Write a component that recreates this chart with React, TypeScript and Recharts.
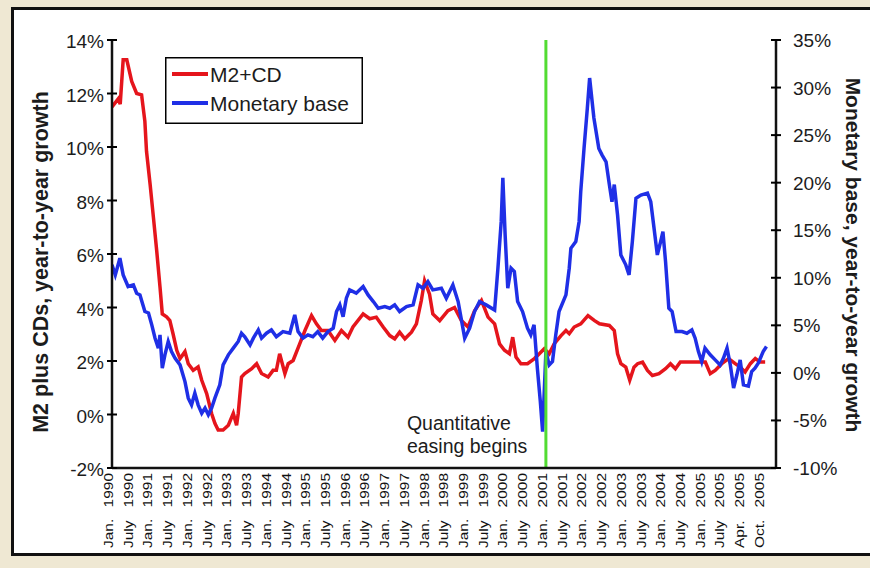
import React from 'react';
import { LineChart, Line, XAxis, YAxis, ReferenceLine, Legend } from 'recharts';

// Months counted from Jan. 1990 (0)
const m2Months = [0, 1.9, 2.5, 3.4, 4.5, 6, 7.5, 9, 10, 10.5, 11.6, 12.6, 13.6, 14.6, 15.3, 16.6, 17.6, 18.6, 19.7, 20.7, 22.2, 23.2, 24.7, 26.2, 27.3, 28.8, 30.3, 31.3, 32.3, 33.8, 35.4, 36.9, 37.9, 38.4, 39.4, 40.4, 42.5, 44, 45.5, 47.5, 49, 50, 51, 52.6, 53.6, 55.1, 57.1, 58.7, 60.7, 62.2, 63.7, 65.7, 67.8, 69.8, 71.8, 73.3, 76.4, 78.4, 80.4, 82.5, 84.5, 86, 87.5, 89.1, 91.1, 92.6, 94.1, 95.1, 96.6, 97.6, 99.7, 102.2, 104.2, 106.3, 108.3, 110.3, 112.4, 114.4, 116.4, 117.9, 119.4, 120.9, 121.9, 122.9, 124.4, 126.4, 128.5, 130, 131.5, 133, 134.5, 136.6, 138.1, 139.1, 140.6, 142.6, 144.8, 146.8, 148.3, 151.3, 152.8, 153.8, 154.8, 156.3, 157.5, 158.8, 159.9, 161.4, 162.9, 164.4, 166.4, 168.4, 169.9, 171.4, 172.9, 174.5, 176.5, 178.5, 180.5, 182, 183.5, 185.5, 187.6, 189.6, 191.1, 192.6, 194.2, 195.7, 197.2, 198.7];
const m2Values = [11.5, 11.8, 11.6, 13.26, 13.26, 12.45, 12.0, 11.95, 10.96, 9.84, 8.6, 7.37, 6.12, 4.77, 3.76, 3.65, 3.51, 3.0, 2.4, 2.09, 2.35, 1.9, 1.65, 1.78, 1.28, 0.78, 0.04, -0.33, -0.58, -0.58, -0.4, 0.04, -0.4, 0.04, 1.4, 1.53, 1.71, 1.9, 1.53, 1.4, 1.65, 1.65, 2.27, 1.53, 1.9, 2.02, 2.64, 3.14, 3.7, 3.39, 3.14, 3.14, 2.77, 3.14, 2.89, 3.27, 3.76, 3.58, 3.64, 3.27, 2.95, 2.83, 3.08, 2.83, 3.08, 3.39, 4.26, 5.0, 4.5, 3.76, 3.51, 3.88, 4.0, 3.51, 3.27, 3.88, 4.26, 3.64, 3.39, 2.64, 2.4, 2.27, 2.89, 2.15, 1.9, 1.9, 2.09, 2.27, 2.46, 2.27, 2.64, 2.95, 3.14, 3.02, 3.27, 3.39, 3.7, 3.51, 3.39, 3.33, 3.14, 2.27, 1.9, 1.77, 1.28, 1.77, 1.9, 1.96, 1.65, 1.46, 1.53, 1.71, 1.9, 1.71, 1.96, 1.96, 1.96, 1.96, 1.96, 1.53, 1.65, 1.9, 2.09, 1.9, 1.77, 1.59, 1.9, 2.09, 1.96, 1.96];

const baseMonths = [0, 1, 2.4, 3.4, 4.9, 6.5, 7.5, 8.5, 10, 11.1, 12.1, 13.1, 14.1, 14.6, 15.3, 16.1, 17.1, 18.1, 19.2, 20.7, 22.2, 23.2, 24.2, 25.2, 26.2, 27.3, 28.3, 29.3, 30.3, 31.3, 32.8, 33.8, 35.4, 36.9, 38.4, 39.4, 40.4, 42, 43, 44.5, 45.5, 47, 48.5, 50, 52, 54.1, 55.6, 56.6, 58.1, 59.6, 61.1, 62.6, 64.1, 65.7, 67.3, 68.3, 69.3, 70.3, 71.3, 72.3, 74.3, 76.4, 77.9, 79.5, 81, 83, 84.5, 86, 87.5, 89.6, 91.6, 93.1, 94.6, 96.1, 97.6, 100.2, 101.7, 103.7, 105.3, 107.3, 108.8, 110.3, 111.8, 113.8, 116.4, 117.4, 118.4, 118.9, 119.6, 120.4, 121.4, 122.4, 123.4, 124.9, 126.4, 127.4, 128.4, 129.4, 130.3, 131, 132, 133, 134, 135, 136, 138.1, 139.1, 139.6, 141.1, 142.1, 142.6, 143.6, 144.6, 145.3, 146.6, 148.1, 149.1, 150.3, 151.3, 152.1, 152.8, 153.8, 154.8, 156.3, 157.3, 158.3, 159.4, 160.9, 162.9, 163.9, 164.9, 165.9, 166.9, 167.6, 168.4, 169.4, 170.4, 171.6, 173.4, 174.9, 176.4, 177.4, 178.4, 179.4, 180.4, 182, 183.5, 185, 186, 187.1, 188.1, 189.1, 190.1, 191.1, 192.1, 193.6, 194.6, 195.6, 196.6, 198.1, 199.1];
const baseValues = [11.36, 10.3, 12.06, 10.3, 9.08, 9.25, 8.38, 8.2, 6.45, 6.3, 5.05, 3.65, 2.6, 4.0, 0.5, 1.9, 3.3, 2.24, 1.54, 0.84, -0.91, -2.66, -3.36, -2.14, -3.36, -4.24, -3.7, -4.4, -3.7, -2.66, -1.26, 0.84, 1.9, 2.6, 3.3, 4.17, 3.8, 2.94, 3.65, 4.52, 3.65, 4.17, 4.52, 3.8, 4.34, 4.17, 6.1, 4.34, 3.65, 4.0, 3.8, 4.34, 3.65, 4.34, 4.7, 6.45, 7.15, 5.9, 7.85, 8.73, 8.38, 9.08, 8.2, 7.5, 6.8, 6.97, 6.8, 7.15, 6.45, 6.97, 7.15, 9.25, 8.9, 9.6, 8.73, 8.9, 7.85, 9.25, 7.5, 3.65, 4.7, 6.45, 7.5, 7.15, 6.6, 11.0, 15.9, 20.5, 14.5, 8.9, 11.0, 10.65, 7.5, 6.45, 4.7, 4.0, 5.05, 0.5, -3.0, -6.17, 2.24, 0.84, 1.2, 4.0, 6.45, 8.2, 11.0, 13.1, 13.8, 15.9, 19.07, 23.6, 27.8, 31.0, 26.8, 23.6, 22.9, 22.2, 19.8, 18.0, 19.8, 16.6, 12.4, 11.36, 10.3, 13.8, 18.37, 18.7, 18.9, 18.0, 15.2, 12.4, 13.8, 14.86, 11.7, 6.8, 6.45, 4.34, 4.34, 4.17, 4.52, 3.65, 2.24, 1.19, 2.6, 1.9, 1.37, 0.84, 1.54, 2.6, 0.84, -1.6, -0.2, 1.37, -1.26, -1.4, 0.14, 0.5, 1.02, 2.24, 2.77];

const tickMonths = [0, 6, 12, 18, 24, 30, 36, 42, 48, 54, 60, 66, 72, 78, 84, 90, 96, 102, 108, 114, 120, 126, 132, 138, 144, 150, 156, 162, 168, 174, 180, 186, 192, 198];
const tickPeriods = ['Jan.', 'July', 'Jan.', 'July', 'Jan.', 'July', 'Jan.', 'July', 'Jan.', 'July', 'Jan.', 'July', 'Jan.', 'July', 'Jan.', 'July', 'Jan.', 'July', 'Jan.', 'July', 'Jan.', 'July', 'Jan.', 'July', 'Jan.', 'July', 'Jan.', 'July', 'Jan.', 'July', 'Jan.', 'July', 'Apr.', 'Oct.'];
const tickYears = ['1990', '1990', '1991', '1991', '1992', '1992', '1993', '1993', '1994', '1994', '1995', '1995', '1996', '1996', '1997', '1997', '1998', '1998', '1999', '1999', '2000', '2000', '2001', '2001', '2002', '2002', '2003', '2003', '2004', '2004', '2005', '2005', '2005', '2005'];
const leftTicks = [-2, 0, 2, 4, 6, 8, 10, 12, 14];
const rightTicks = [-10, -5, 0, 5, 10, 15, 20, 25, 30, 35];
const qeMonth = 132;

const m2Data = m2Months.map((m, i) => ({ m, v: m2Values[i] }));
const baseData = baseMonths.map((m, i) => ({ m, v: baseValues[i] }));

const FONT = "'Liberation Sans', Arial, Helvetica, sans-serif";
const TXT = '#1c1c1c';
const RED = '#e5151c';
const BLUE = '#1f2fe6';
const GREEN = '#52dc32';

const LeftTick = (props: any) => {
  const { x, y, payload } = props;
  return (
    <g>
      <line x1={x - 5} x2={x + 5} y1={y} y2={y} stroke="#000" strokeWidth={2} />
      <text x={x - 8} y={y + 8} textAnchor="end" fontSize={19} fill={TXT} fontFamily={FONT}>
        {payload.value}%
      </text>
    </g>
  );
};

const RightTick = (props: any) => {
  const { x, y, payload } = props;
  return (
    <g>
      <line x1={x - 5} x2={x + 5} y1={y} y2={y} stroke="#000" strokeWidth={2} />
      <text x={x + 17} y={y + 7} textAnchor="start" fontSize={19} fill={TXT} fontFamily={FONT}>
        {payload.value}%
      </text>
    </g>
  );
};

const BottomTick = (props: any) => {
  const { x, y, payload } = props;
  const i = tickMonths.indexOf(payload.value);
  if (i < 0) return null;
  return (
    <g>
      <text
        transform={`translate(${x + 1},${y + 5}) rotate(-90) scale(1,0.8)`}
        textAnchor="end"
        fontSize={15.5}
        fill="#111"
        fontFamily={FONT}
      >
        {tickYears[i]}
      </text>
      <text
        transform={`translate(${x + 1},${y + 80}) rotate(-90) scale(1,0.8)`}
        textAnchor="start"
        fontSize={15.5}
        fill="#111"
        fontFamily={FONT}
      >
        {tickPeriods[i]}
      </text>
    </g>
  );
};

const renderLegend = () => (
  <svg width={198} height={67} style={{ display: 'block' }}>
    <rect x={0.75} y={0.75} width={196.5} height={65.5} fill="#fff" stroke="#000" strokeWidth={1.5} />
    <line x1={7} x2={43} y1={17} y2={17} stroke={RED} strokeWidth={4} />
    <text x={45} y={24.5} fontSize={21} fill={TXT} fontFamily={FONT}>M2+CD</text>
    <line x1={7} x2={43} y1={46} y2={46} stroke={BLUE} strokeWidth={4} />
    <text x={45} y={53.5} fontSize={21} fill={TXT} fontFamily={FONT}>Monetary base</text>
  </svg>
);

const QELabel = (props: any) => {
  const vb = props.viewBox || {};
  const bottom = vb.y + vb.height;
  return (
    <g fontFamily={FONT} fontSize={19.5} fill={TXT}>
      <text x={vb.x - 139} y={bottom - 38}>Quantitative</text>
      <text x={vb.x - 139} y={bottom - 15}>easing begins</text>
    </g>
  );
};

export default function App() {
  return (
    <div style={{ position: 'absolute', left: 0, top: 0, width: 870, height: 568, overflow: 'hidden', background: '#efe8d3' }}>
      <div
        style={{
          position: 'absolute',
          left: 11,
          top: 7,
          width: 880,
          height: 549,
          boxSizing: 'border-box',
          border: '3px solid #111',
          background: '#fff',
        }}
      />
      <div style={{ position: 'absolute', left: 0, top: 0 }}>
        <LineChart width={870} height={568} margin={{ top: 40, right: 0, bottom: 0, left: 0 }}>
          <XAxis
            xAxisId={0}
            dataKey="m"
            type="number"
            domain={[0, 202]}
            ticks={tickMonths}
            interval={0}
            height={100}
            tickSize={0}
            tickMargin={0}
            tickLine={false}
            axisLine={{ stroke: '#111', strokeWidth: 2.5 }}
            tick={<BottomTick />}
            allowDataOverflow
          />
          <XAxis
            xAxisId="top"
            orientation="top"
            dataKey="m"
            type="number"
            domain={[0, 202]}
            height={0}
            tick={false}
            tickLine={false}
            axisLine={{ stroke: '#111', strokeWidth: 2.5 }}
            allowDataOverflow
          />
          <YAxis
            yAxisId="left"
            orientation="left"
            type="number"
            domain={[-2, 14]}
            ticks={leftTicks}
            interval={0}
            width={112}
            tickSize={0}
            tickMargin={0}
            tickLine={false}
            axisLine={{ stroke: '#111', strokeWidth: 2.5 }}
            tick={<LeftTick />}
            allowDataOverflow
          />
          <YAxis
            yAxisId="right"
            orientation="right"
            type="number"
            domain={[-10, 35]}
            ticks={rightTicks}
            interval={0}
            width={94}
            tickSize={0}
            tickMargin={0}
            tickLine={false}
            axisLine={{ stroke: '#111', strokeWidth: 2.5 }}
            tick={<RightTick />}
            allowDataOverflow
          />
          <Legend
            layout="vertical"
            align="center"
            verticalAlign="middle"
            wrapperStyle={{ left: 165, top: 57, width: 198, height: 67 }}
            content={renderLegend}
          />
          <Line
            yAxisId="left"
            data={m2Data}
            dataKey="v"
            type="linear"
            stroke={RED}
            strokeWidth={3.5}
            dot={false}
            activeDot={false}
            isAnimationActive={false}
          />
          <Line
            yAxisId="right"
            data={baseData}
            dataKey="v"
            type="linear"
            stroke={BLUE}
            strokeWidth={3.5}
            dot={false}
            activeDot={false}
            isAnimationActive={false}
          />
          <ReferenceLine
            x={qeMonth}
            yAxisId="left"
            stroke={GREEN}
            strokeWidth={3}
            label={<QELabel />}
          />
        </LineChart>
      </div>
      <svg width={870} height={568} style={{ position: 'absolute', left: 0, top: 0, pointerEvents: 'none' }}>
        <text
          transform="translate(48,262) rotate(-90)"
          textAnchor="middle"
          fontSize={21.5}
          fontWeight="bold"
          fill={TXT}
          fontFamily={FONT}
        >
          M2 plus CDs, year-to-year growth
        </text>
        <text
          transform="translate(846,255) rotate(90)"
          textAnchor="middle"
          fontSize={21}
          fontWeight="bold"
          fill={TXT}
          fontFamily={FONT}
        >
          Monetary base, year-to-year growth
        </text>
      </svg>
    </div>
  );
}
